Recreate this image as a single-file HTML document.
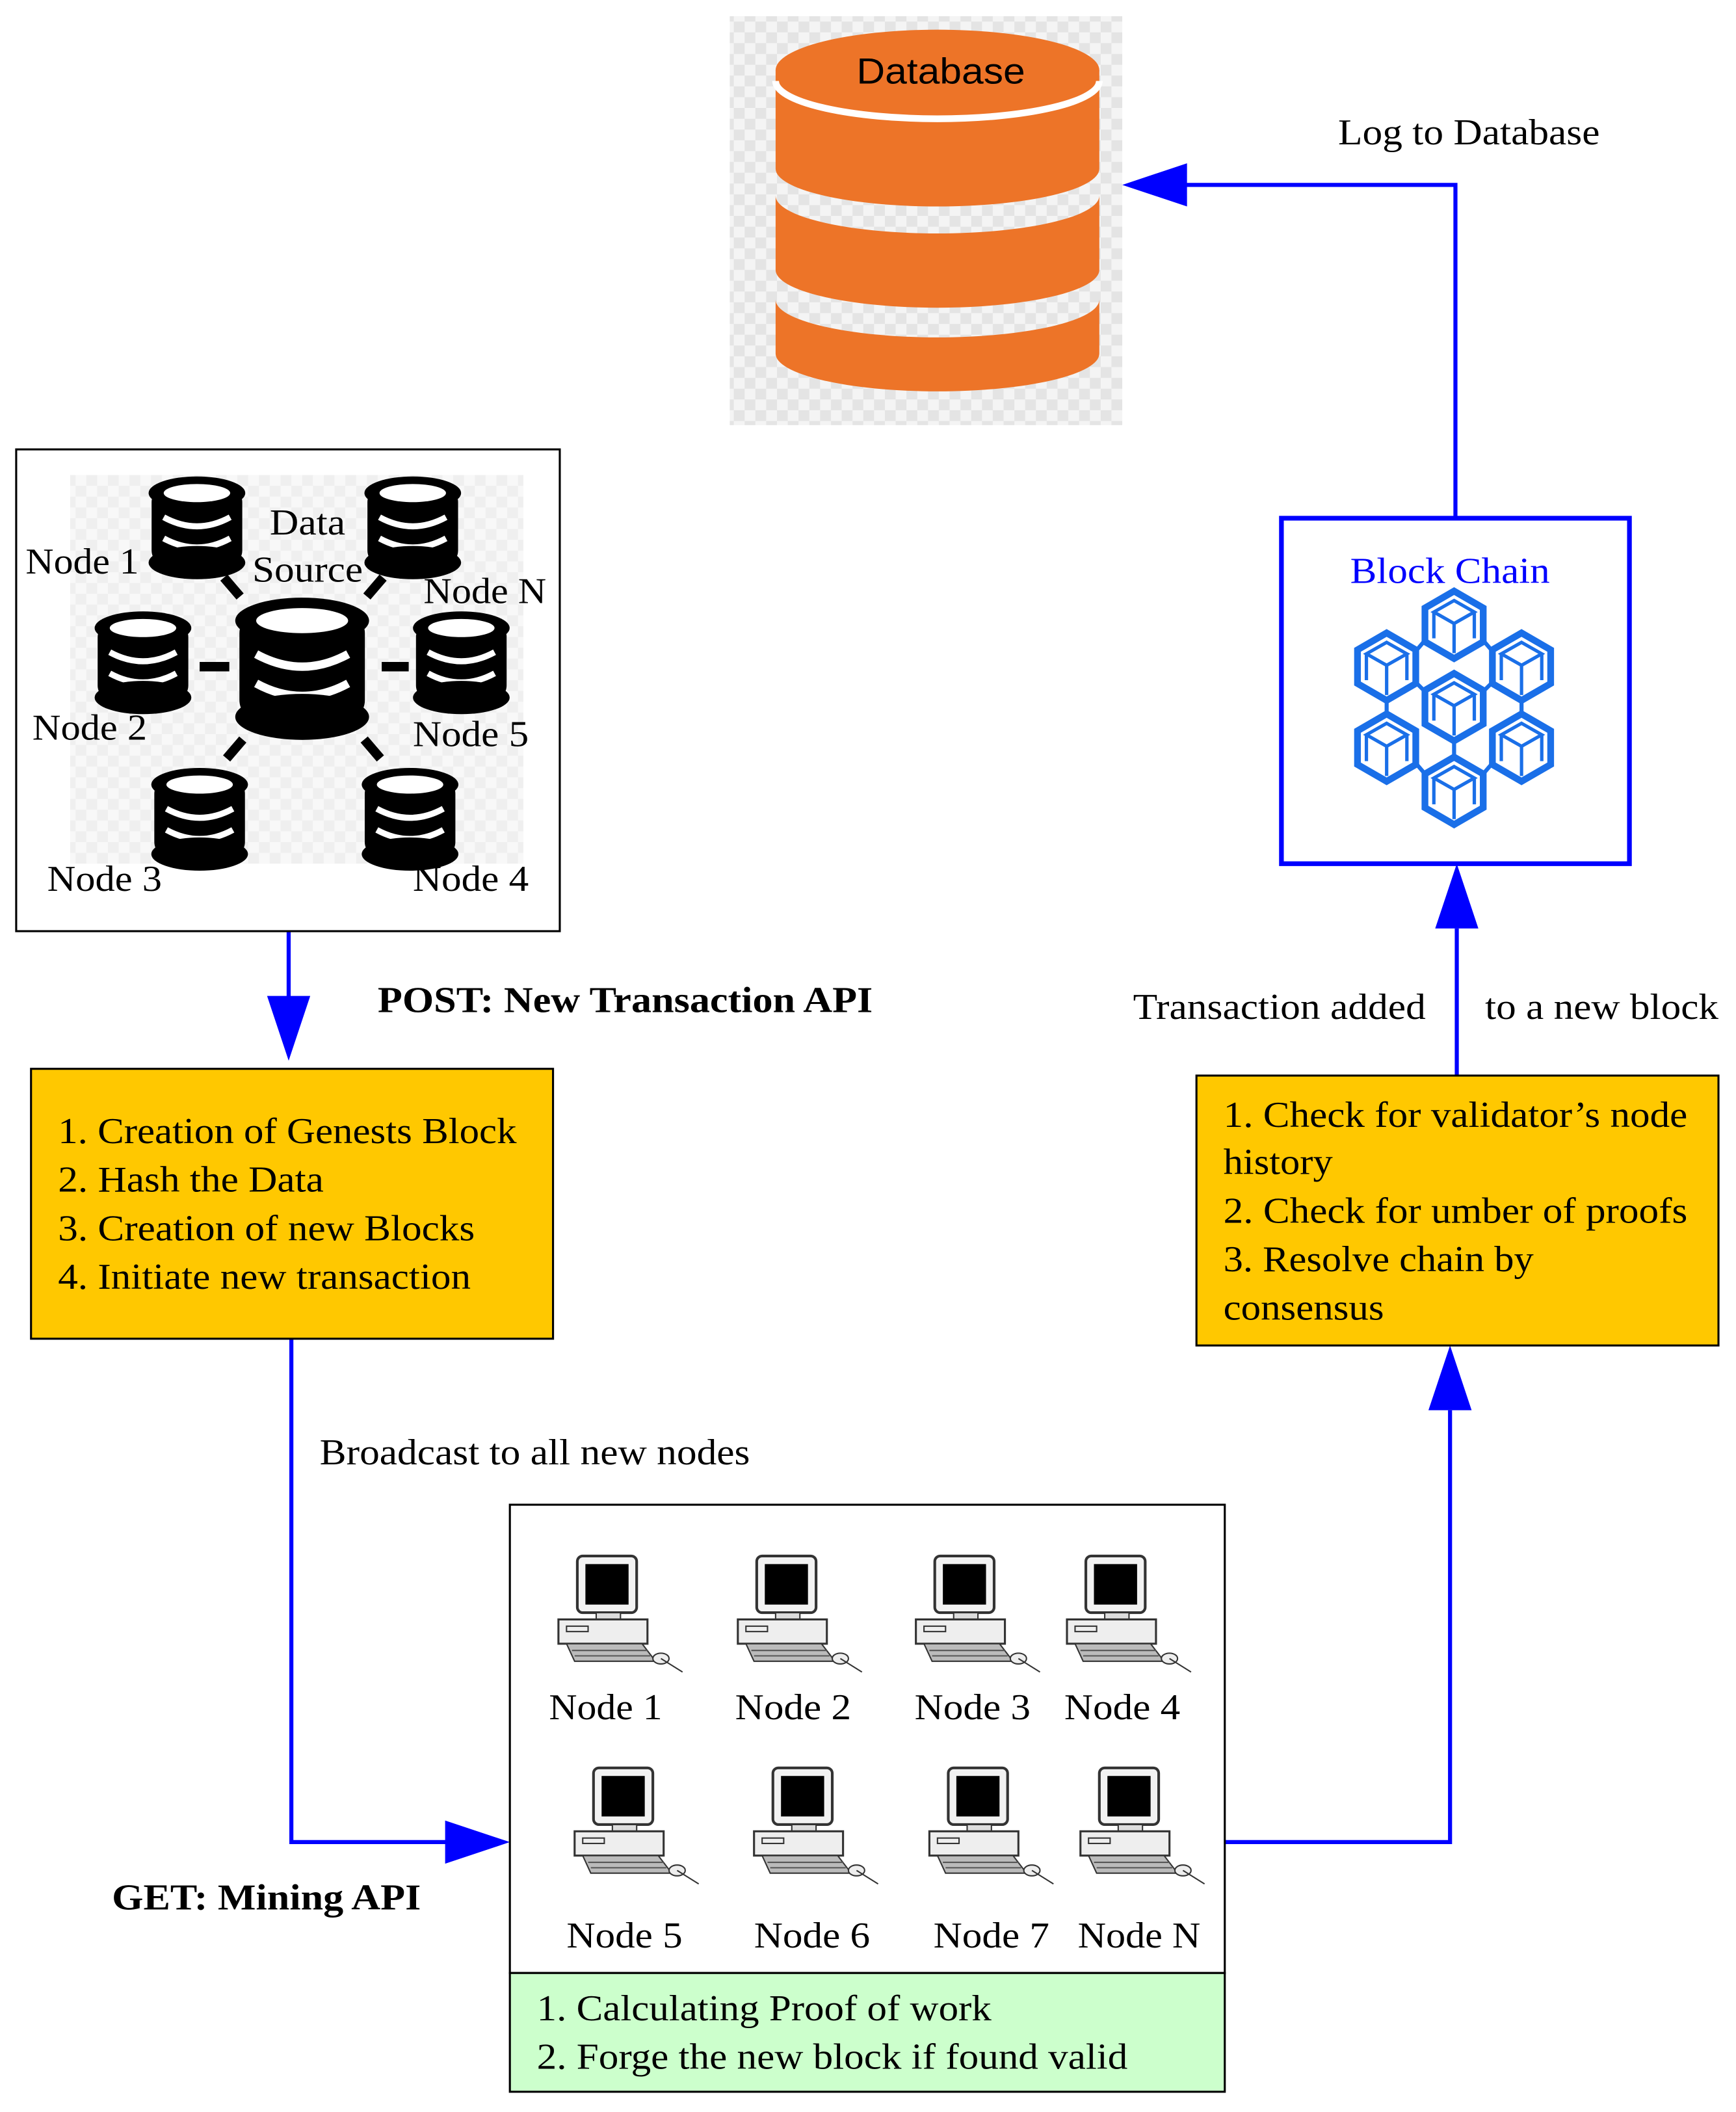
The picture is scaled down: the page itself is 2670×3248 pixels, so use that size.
<!DOCTYPE html>
<html><head><meta charset="utf-8"><style>html,body{margin:0;padding:0;background:#fff}svg{display:block}</style></head>
<body>
<svg width="2670" height="3248" viewBox="0 0 1287 1565" preserveAspectRatio="none" xmlns="http://www.w3.org/2000/svg" font-family="'Liberation Serif', serif">
<defs>
<pattern id="chk" width="16" height="16" patternUnits="userSpaceOnUse">
<rect width="16" height="16" fill="#f4f4f4"/><rect width="8" height="8" fill="#e4e4e4"/><rect x="8" y="8" width="8" height="8" fill="#e4e4e4"/>
</pattern>
<g id="hex">
<polygon points="0,-25 21.6,-12.5 21.6,12.5 0,25 -21.6,12.5 -21.6,-12.5" fill="#fff" stroke="#1a6fe8" stroke-width="5"/>
<polygon points="0,-18 15,-9.5 0,-1 -15,-9.5" fill="none" stroke="#1a6fe8" stroke-width="2.5"/>
<line x1="0" y1="-1" x2="0" y2="21" stroke="#1a6fe8" stroke-width="2.5"/>
<line x1="-15" y1="-9.5" x2="-15" y2="10" stroke="#1a6fe8" stroke-width="2.5"/>
<line x1="15" y1="-9.5" x2="15" y2="10" stroke="#1a6fe8" stroke-width="2.5"/>
</g>
<g id="cyl">
<rect x="-30" y="-26" width="60" height="52" rx="10" fill="#000"/>
<ellipse cx="0" cy="-22" rx="32" ry="11" fill="#000"/>
<ellipse cx="0" cy="-22" rx="22" ry="6" fill="#fff"/>
<path d="M-22,-6 Q0,6 22,-6" stroke="#fff" stroke-width="4" fill="none"/>
<path d="M-22,8 Q0,20 22,8" stroke="#fff" stroke-width="4" fill="none"/>
<ellipse cx="0" cy="24" rx="32" ry="11" fill="#000"/>
</g>
<g id="pc">
<rect x="14" y="0" width="44" height="42" rx="4" fill="#f2f2f2" stroke="#333" stroke-width="2"/>
<rect x="20" y="6" width="32" height="30" fill="#000"/>
<rect x="28" y="42" width="18" height="5" fill="#ddd" stroke="#333"/>
<rect x="0" y="47" width="66" height="18" fill="#eee" stroke="#333" stroke-width="1.5"/>
<rect x="6" y="52" width="16" height="4" fill="none" stroke="#333"/>
<polygon points="6,65 62,65 72,78 12,78" fill="#bbb" stroke="#333"/>
<line x1="10" y1="70" x2="66" y2="70" stroke="#555"/>
<line x1="12" y1="74" x2="68" y2="74" stroke="#555"/>
<ellipse cx="76" cy="76" rx="6" ry="4" fill="#eee" stroke="#333"/>
<line x1="76" y1="76" x2="92" y2="86" stroke="#333"/>
</g>
</defs>

<!-- Database -->
<rect x="541" y="12" width="291" height="303" fill="url(#chk)"/>
<path d="M575,52 L575,125 A120,28 0 0 0 815,125 L815,52 Z" fill="#ed7428"/>
<ellipse cx="695" cy="52" rx="120" ry="30" fill="#ed7428"/>
<path d="M575,60 A120,28 0 0 0 815,60" stroke="#fff" stroke-width="5" fill="none"/>
<path d="M575,145 L575,200 A120,28 0 0 0 815,200 L815,145 A120,28 0 0 1 575,145 Z" fill="#ed7428"/>
<path d="M575,222 L575,262 A120,28 0 0 0 815,262 L815,222 A120,28 0 0 1 575,222 Z" fill="#ed7428"/>
<text x="635" y="62" font-family="'Liberation Sans', sans-serif" font-size="27" textLength="125" lengthAdjust="spacingAndGlyphs">Database</text>

<!-- connectors -->
<g stroke="#0000ff" stroke-width="3" fill="none">
<polyline points="1079,383 1079,137 878,137"/>
<line x1="1080" y1="797" x2="1080" y2="688"/>
<polyline points="908,1365 1075,1365 1075,1045"/>
<line x1="214" y1="690" x2="214" y2="740"/>
<polyline points="216,992 216,1365 332,1365"/>
</g>
<g fill="#0000ff">
<polygon points="832,137 880,121 880,153"/>
<polygon points="1080,640 1064,688 1096,688"/>
<polygon points="1075,997 1059,1045 1091,1045"/>
<polygon points="214,786 198,738 230,738"/>
<polygon points="378,1365 330,1349 330,1381"/>
</g>

<g font-size="27" lengthAdjust="spacingAndGlyphs">
<text x="992" y="107" textLength="194" lengthAdjust="spacingAndGlyphs">Log to Database</text>
<text x="840" y="755" textLength="217" lengthAdjust="spacingAndGlyphs">Transaction added</text>
<text x="1101" y="755" textLength="173" lengthAdjust="spacingAndGlyphs">to a new block</text>
<text x="280" y="750" font-weight="bold" textLength="367" lengthAdjust="spacingAndGlyphs">POST: New Transaction API</text>
<text x="237" y="1085" textLength="319" lengthAdjust="spacingAndGlyphs">Broadcast to all new nodes</text>
<text x="83" y="1415" font-weight="bold" textLength="229" lengthAdjust="spacingAndGlyphs">GET: Mining API</text>
</g>

<!-- Block chain -->
<rect x="950" y="384" width="258" height="256" fill="#fff" stroke="#0000ff" stroke-width="3.5"/>
<text x="1001" y="432" font-size="27" fill="#0000ff" textLength="148" lengthAdjust="spacingAndGlyphs">Block Chain</text>
<g stroke="#1a6fe8" stroke-width="3">
<line x1="1050" y1="482" x2="1056" y2="475"/><line x1="1106" y1="482" x2="1100" y2="475"/>
<line x1="1050" y1="506" x2="1056" y2="512"/><line x1="1106" y1="506" x2="1100" y2="512"/>
<line x1="1028" y1="519" x2="1028" y2="529"/><line x1="1128" y1="519" x2="1128" y2="529"/>
<line x1="1050" y1="566" x2="1056" y2="573"/><line x1="1106" y1="566" x2="1100" y2="573"/>
<line x1="1078" y1="549" x2="1078" y2="561"/>
</g>
<use href="#hex" x="1078" y="463"/>
<use href="#hex" x="1028" y="494"/>
<use href="#hex" x="1128" y="494"/>
<use href="#hex" x="1078" y="524"/>
<use href="#hex" x="1028" y="554"/>
<use href="#hex" x="1128" y="554"/>
<use href="#hex" x="1078" y="586"/>

<!-- Right yellow -->
<rect x="887" y="797" width="387" height="200" fill="#ffc800" stroke="#000" stroke-width="1.5"/>
<g font-size="27">
<text x="907" y="835" textLength="344" lengthAdjust="spacingAndGlyphs">1. Check for validator’s node</text>
<text x="907" y="870" textLength="81" lengthAdjust="spacingAndGlyphs">history</text>
<text x="907" y="906" textLength="344" lengthAdjust="spacingAndGlyphs">2. Check for umber of proofs</text>
<text x="907" y="942" textLength="230" lengthAdjust="spacingAndGlyphs">3. Resolve chain by</text>
<text x="907" y="978" textLength="119" lengthAdjust="spacingAndGlyphs">consensus</text>
</g>

<!-- Data source box -->
<rect x="12" y="333" width="403" height="357" fill="#fff" stroke="#000" stroke-width="1.5"/>
<rect x="52" y="352" width="336" height="288" fill="url(#chk)" opacity="0.6"/>
<g stroke="#000" stroke-width="7">
<line x1="166" y1="428" x2="178" y2="442"/><line x1="284" y1="428" x2="272" y2="442"/>
<line x1="148" y1="494" x2="170" y2="494"/><line x1="283" y1="494" x2="303" y2="494"/>
<line x1="168" y1="562" x2="180" y2="548"/><line x1="282" y1="562" x2="270" y2="548"/>
</g>
<g transform="translate(224,494) scale(1.55)"><use href="#cyl"/></g>
<g transform="translate(146,390) scale(1.12)"><use href="#cyl"/></g>
<g transform="translate(306,390) scale(1.12)"><use href="#cyl"/></g>
<g transform="translate(106,490) scale(1.12)"><use href="#cyl"/></g>
<g transform="translate(342,490) scale(1.12)"><use href="#cyl"/></g>
<g transform="translate(148,606) scale(1.12)"><use href="#cyl"/></g>
<g transform="translate(304,606) scale(1.12)"><use href="#cyl"/></g>
<g font-size="27">
<text x="19" y="425" textLength="84" lengthAdjust="spacingAndGlyphs">Node 1</text>
<text x="200" y="396" textLength="56" lengthAdjust="spacingAndGlyphs">Data</text>
<text x="187" y="431" textLength="82" lengthAdjust="spacingAndGlyphs">Source</text>
<text x="314" y="447" textLength="91" lengthAdjust="spacingAndGlyphs">Node N</text>
<text x="24" y="548" textLength="85" lengthAdjust="spacingAndGlyphs">Node 2</text>
<text x="306" y="553" textLength="86" lengthAdjust="spacingAndGlyphs">Node 5</text>
<text x="35" y="660" textLength="85" lengthAdjust="spacingAndGlyphs">Node 3</text>
<text x="306" y="660" textLength="86" lengthAdjust="spacingAndGlyphs">Node 4</text>
</g>

<!-- Left yellow -->
<rect x="23" y="792" width="387" height="200" fill="#ffc800" stroke="#000" stroke-width="1.5"/>
<g font-size="27">
<text x="43" y="847" textLength="340" lengthAdjust="spacingAndGlyphs">1. Creation of Genests Block</text>
<text x="43" y="883" textLength="197" lengthAdjust="spacingAndGlyphs">2. Hash the Data</text>
<text x="43" y="919" textLength="309" lengthAdjust="spacingAndGlyphs">3. Creation of new Blocks</text>
<text x="43" y="955" textLength="306" lengthAdjust="spacingAndGlyphs">4. Initiate new transaction</text>
</g>

<!-- Mining box -->
<rect x="378" y="1115" width="530" height="347" fill="#fff" stroke="#000" stroke-width="1.5"/>
<rect x="378" y="1462" width="530" height="88" fill="#ccffcc" stroke="#000" stroke-width="1.5"/>
<use href="#pc" x="414" y="1153"/>
<use href="#pc" x="547" y="1153"/>
<use href="#pc" x="679" y="1153"/>
<use href="#pc" x="791" y="1153"/>
<use href="#pc" x="426" y="1310"/>
<use href="#pc" x="559" y="1310"/>
<use href="#pc" x="689" y="1310"/>
<use href="#pc" x="801" y="1310"/>
<g font-size="27">
<text x="407" y="1274" textLength="84" lengthAdjust="spacingAndGlyphs">Node 1</text>
<text x="545" y="1274" textLength="86" lengthAdjust="spacingAndGlyphs">Node 2</text>
<text x="678" y="1274" textLength="86" lengthAdjust="spacingAndGlyphs">Node 3</text>
<text x="789" y="1274" textLength="86" lengthAdjust="spacingAndGlyphs">Node 4</text>
<text x="420" y="1443" textLength="86" lengthAdjust="spacingAndGlyphs">Node 5</text>
<text x="559" y="1443" textLength="86" lengthAdjust="spacingAndGlyphs">Node 6</text>
<text x="692" y="1443" textLength="86" lengthAdjust="spacingAndGlyphs">Node 7</text>
<text x="799" y="1443" textLength="91" lengthAdjust="spacingAndGlyphs">Node N</text>
<text x="398" y="1497" textLength="337" lengthAdjust="spacingAndGlyphs">1. Calculating Proof of work</text>
<text x="398" y="1533" textLength="438" lengthAdjust="spacingAndGlyphs">2. Forge the new block if found valid</text>
</g>
</svg>
</body></html>
